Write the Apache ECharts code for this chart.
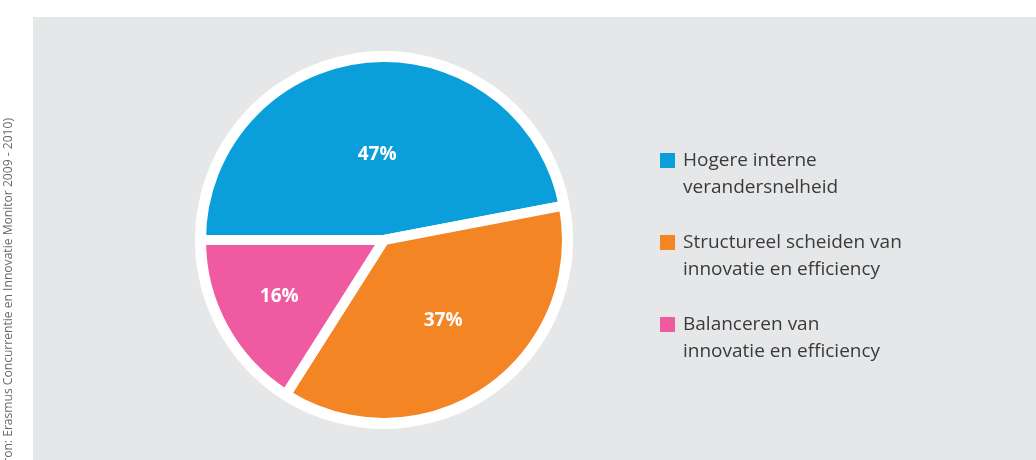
<!DOCTYPE html>
<html>
<head>
<meta charset="utf-8">
<script src="https://cdn.jsdelivr.net/npm/echarts@6/dist/echarts.min.js"></script>
<style>
  html, body { margin: 0; padding: 0; background: #ffffff; }
  #container { width: 1036px; height: 460px; }
</style>
</head>
<body>
<div id="container"></div>
<script>
// categories and shares (percent)
var categories = [
  'Hogere interne\nverandersnelheid',
  'Structureel scheiden van\ninnovatie en efficiency',
  'Balanceren van\ninnovatie en efficiency'
];
var shares = [47, 37, 16];
var colors = ['#0a9fdb', '#f38524', '#ef5aa1'];
var sourceText = '(Bron: Erasmus Concurrentie en Innovatie Monitor 2009 - 2010)';

var myChart = echarts.init(document.getElementById('container'));

// label nudges so the labels sit like the original
var labelNudge = [[2, 9], [6, 2], [-22, 11]];

var pieData = categories.map(function (c, i) {
  return {
    name: c,
    value: shares[i],
    itemStyle: { color: colors[i] },
    label: { offset: labelNudge[i] }
  };
});

var option = {
  backgroundColor: '#ffffff',
  animation: false,
  graphic: [
    {
      type: 'rect',
      z: -10,
      shape: { x: 33, y: 17, width: 1003, height: 443 },
      style: { fill: '#e6e7e9' }
    },
    {
      type: 'text',
      x: 9,
      y: 118,
      rotation: Math.PI / 2,
      style: {
        text: sourceText,
        fill: '#6a6a6a',
        font: '12.1px "Open Sans", sans-serif',
        textAlign: 'right',
        textVerticalAlign: 'middle'
      }
    }
  ],
  legend: {
    orient: 'vertical',
    left: 660,
    top: 120,
    padding: 0,
    itemWidth: 15,
    itemHeight: 15,
    itemGap: 1,
    icon: 'rect',
    selectedMode: false,
    itemStyle: { borderWidth: 0 },
    data: categories,
    // empty first line keeps the first text line level with the square
    formatter: function (name) { return '\n' + name; },
    textStyle: {
      color: '#3a3a3a',
      fontFamily: 'Open Sans',
      fontSize: 19,
      lineHeight: 27,
      padding: [0, 0, 0, 3]
    }
  },
  series: [
    {
      type: 'pie',
      silent: true,
      center: [384, 240],
      radius: 189,
      label: { show: false },
      labelLine: { show: false },
      itemStyle: { color: '#ffffff' },
      data: [1],
      z: 1
    },
    {
      type: 'pie',
      silent: true,
      center: [384, 240],
      radius: 183,
      startAngle: 180,
      clockwise: true,
      z: 2,
      itemStyle: { borderColor: '#ffffff', borderWidth: 10 },
      label: {
        show: true,
        position: 'inside',
        formatter: '{c}%',
        color: '#ffffff',
        fontFamily: 'Open Sans',
        fontWeight: 'bold',
        fontSize: 19
      },
      labelLine: { show: false },
      data: pieData
    }
  ]
};
myChart.setOption(option);
</script>
</body>
</html>
